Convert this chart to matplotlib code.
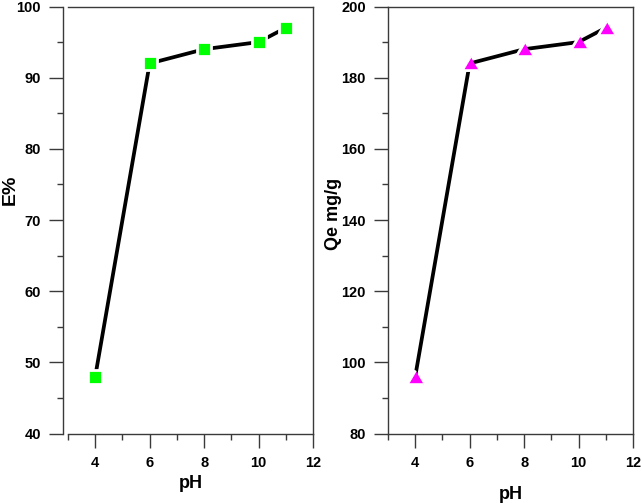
import matplotlib
matplotlib.use("Agg")
import matplotlib.pyplot as plt
from matplotlib.ticker import MultipleLocator

plt.rcParams['font.family'] = ['Liberation Sans', 'DejaVu Sans']
plt.rcParams['font.weight'] = 'bold'

# data
ph = [4, 6, 8, 10, 11]
removal = [48, 92, 94, 95, 97]
qe = [96, 184, 188, 190, 194]

W, H = 642, 503
fig = plt.figure(figsize=(W / 100, H / 100), dpi=100)

spine_col = '#3a3a3a'
tri = [(0, 0.85), (-1, -0.85), (1, -0.85)]


def style_axis(ax, ymin, ymax, ymajor, yminor, left_offset):
    ax.set_xlim(3, 12)
    ax.set_ylim(ymin, ymax)
    ax.xaxis.set_major_locator(MultipleLocator(2))
    ax.xaxis.set_minor_locator(MultipleLocator(1))
    ax.yaxis.set_major_locator(MultipleLocator(ymajor))
    ax.yaxis.set_minor_locator(MultipleLocator(yminor))
    for s in ax.spines.values():
        s.set_color(spine_col)
        s.set_linewidth(1.0)
    if left_offset:
        ax.spines['left'].set_position(('outward', left_offset))
    ax.tick_params(which='both', direction='out', color=spine_col, width=1.0,
                   top=False, right=False)
    ax.tick_params(which='major', length=10, labelsize=10.5)
    ax.tick_params(which='minor', length=4.5)
    ax.tick_params(axis='y', which='major', pad=6)
    ax.tick_params(axis='x', which='major', pad=6)
    for lab in ax.get_xticklabels() + ax.get_yticklabels():
        lab.set_fontweight('bold')


# left panel: E%
ax1 = fig.add_axes([68 / W, 1 - 433.5 / H, 245 / W, 427 / H])
ax1.plot(ph, removal, color='black', lw=2.7, marker='s', ms=9.5,
         mfc='#00ff00', mec='white', mew=2, solid_capstyle='butt')
style_axis(ax1, 40, 100, 10, 5, 3.6)
ax1.set_xticks([4, 6, 8, 10, 12])
ax1.set_xlabel('pH', fontsize=13, fontweight='bold', labelpad=4)
ax1.set_ylabel('E%', fontsize=14, fontweight='bold')
ax1.yaxis.set_label_coords(19 / W, 1 - 190 / H, transform=fig.transFigure)

# right panel: Qe
ax2 = fig.add_axes([388 / W, 1 - 433.5 / H, 245 / W, 427 / H])
ax2.plot(ph, qe, color='black', lw=2.7, marker=tri, ms=12,
         mfc='#ff00ff', mec='white', mew=2, solid_capstyle='butt')
style_axis(ax2, 80, 200, 20, 10, 0)
ax2.set_xticks([4, 6, 8, 10, 12])
ax2.set_xlabel('pH', fontsize=13, fontweight='bold', labelpad=12)
ax2.set_ylabel('Qe mg/g', fontsize=13, fontweight='bold')
ax2.yaxis.set_label_coords(342 / W, 1 - 214 / H, transform=fig.transFigure)

fig.savefig('out.png', dpi=100)
